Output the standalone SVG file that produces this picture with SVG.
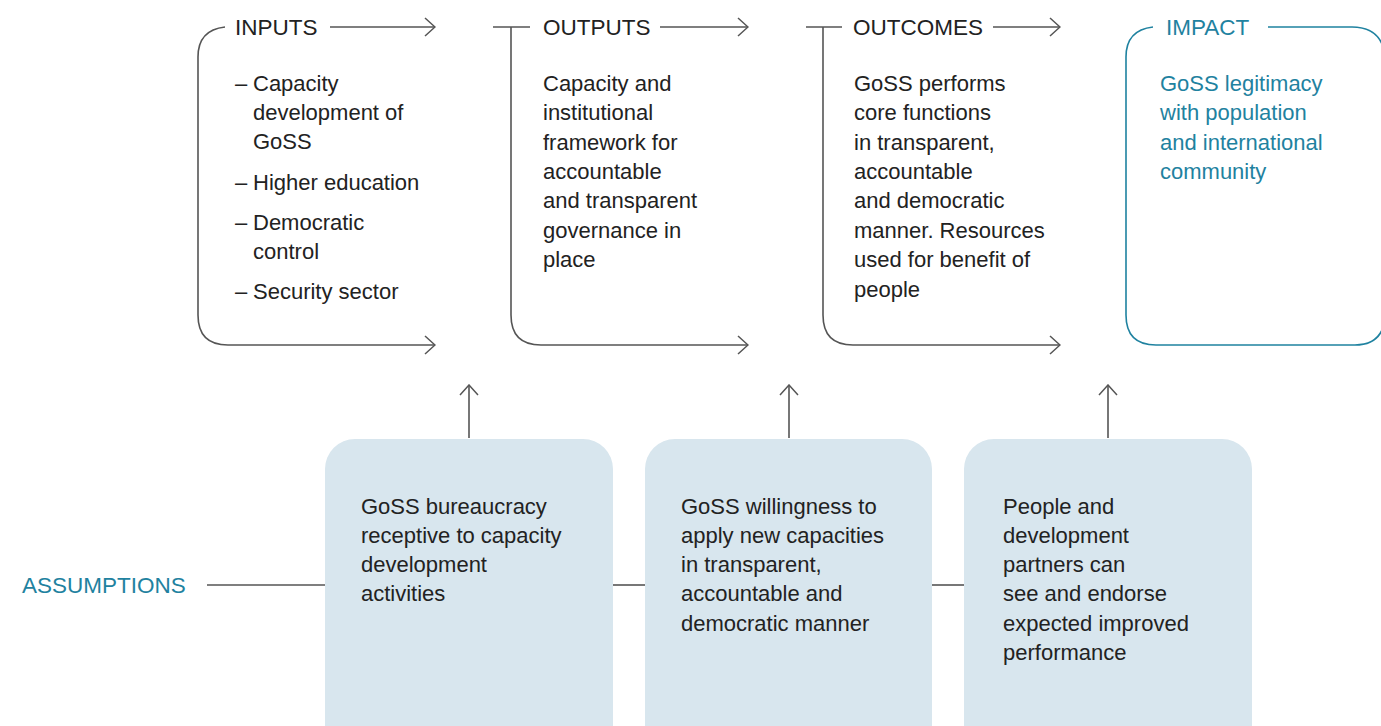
<svg xmlns="http://www.w3.org/2000/svg" width="1381" height="726" viewBox="0 0 1381 726">
<defs>
<marker id="ah" viewBox="0 0 12 20" refX="11" refY="10" markerWidth="12" markerHeight="20" markerUnits="userSpaceOnUse" orient="auto">
<path d="M1,1 L11,10 L1,19" fill="none" stroke="#555" stroke-width="1.5"/>
</marker>
</defs>
<style>
.t{font-family:"Liberation Sans",Arial,sans-serif;font-size:22px;fill:#222}
.h{font-family:"Liberation Sans",Arial,sans-serif;font-size:22.5px;fill:#222}
.teal{fill:#1f82a0}
.ln{fill:none;stroke:#555;stroke-width:1.6}
.box{fill:#d8e6ee}
</style>
<rect width="1381" height="726" fill="#fff"/>
<g id="connectors">
<line class="ln" x1="330" y1="27" x2="435" y2="27" marker-end="url(#ah)"/>
<line class="ln" x1="660" y1="27" x2="748" y2="27" marker-end="url(#ah)"/>
<line class="ln" x1="993" y1="27" x2="1060" y2="27" marker-end="url(#ah)"/>
<line class="ln" x1="469" y1="438" x2="469" y2="385" marker-end="url(#ah)"/>
<line class="ln" x1="789" y1="438" x2="789" y2="385" marker-end="url(#ah)"/>
<line class="ln" x1="1108" y1="438" x2="1108" y2="385" marker-end="url(#ah)"/>
<line class="ln" x1="207" y1="585" x2="325" y2="585"/>
<line class="ln" x1="613" y1="585" x2="645" y2="585"/>
<line class="ln" x1="932" y1="585" x2="964" y2="585"/>
</g>
<g id="inputs">
<path class="ln" d="M225,27 Q198,30 198,57 L198,315 Q198,345 228,345 L435,345" marker-end="url(#ah)"/>
<text class="h" x="235" y="35">INPUTS</text>
<text class="t" x="235" y="91">–</text>
<text class="t" x="253" y="91">Capacity</text>
<text class="t" x="253" y="120">development of</text>
<text class="t" x="253" y="149">GoSS</text>
<text class="t" x="235" y="190">–</text>
<text class="t" x="253" y="190">Higher education</text>
<text class="t" x="235" y="230">–</text>
<text class="t" x="253" y="230">Democratic</text>
<text class="t" x="253" y="259">control</text>
<text class="t" x="235" y="299">–</text>
<text class="t" x="253" y="299">Security sector</text>
</g>
<g id="outputs">
<path class="ln" d="M493,27 L530,27 M511,27 L511,315 Q511,345 541,345 L748,345" marker-end="url(#ah)"/>
<text class="h" x="543" y="35">OUTPUTS</text>
<text class="t" x="543" y="91">Capacity and</text>
<text class="t" x="543" y="120">institutional</text>
<text class="t" x="543" y="150">framework for</text>
<text class="t" x="543" y="179">accountable</text>
<text class="t" x="543" y="208">and transparent</text>
<text class="t" x="543" y="238">governance in</text>
<text class="t" x="543" y="267">place</text>
</g>
<g id="outcomes">
<path class="ln" d="M806,27 L842,27 M823,27 L823,315 Q823,345 853,345 L1060,345" marker-end="url(#ah)"/>
<text class="h" x="853" y="35">OUTCOMES</text>
<text class="t" x="854" y="91">GoSS performs</text>
<text class="t" x="854" y="120">core functions</text>
<text class="t" x="854" y="150">in transparent,</text>
<text class="t" x="854" y="179">accountable</text>
<text class="t" x="854" y="208">and democratic</text>
<text class="t" x="854" y="238">manner. Resources</text>
<text class="t" x="854" y="267">used for benefit of</text>
<text class="t" x="854" y="297">people</text>
</g>
<g id="impact">
<path d="M1153,27 Q1126,30 1126,57 L1126,315 Q1126,345 1156,345 L1355,345 Q1381,345 1385,320 M1268,27 L1352,27 Q1381,27 1385,55" fill="none" stroke="#1f82a0" stroke-width="1.6"/>
<text class="h teal" x="1166" y="35">IMPACT</text>
<text class="t teal" x="1160" y="91">GoSS legitimacy</text>
<text class="t teal" x="1160" y="120">with population</text>
<text class="t teal" x="1160" y="150">and international</text>
<text class="t teal" x="1160" y="179">community</text>
</g>
<g id="assumptions">
<text class="h teal" x="22" y="593">ASSUMPTIONS</text>
</g>
<g id="a1">
<rect class="box" x="325" y="439" width="288" height="320" rx="30"/>
<text class="t" x="361" y="514">GoSS bureaucracy</text>
<text class="t" x="361" y="543">receptive to capacity</text>
<text class="t" x="361" y="572">development</text>
<text class="t" x="361" y="601">activities</text>
</g>
<g id="a2">
<rect class="box" x="645" y="439" width="287" height="320" rx="30"/>
<text class="t" x="681" y="514">GoSS willingness to</text>
<text class="t" x="681" y="543">apply new capacities</text>
<text class="t" x="681" y="572">in transparent,</text>
<text class="t" x="681" y="601">accountable and</text>
<text class="t" x="681" y="631">democratic manner</text>
</g>
<g id="a3">
<rect class="box" x="964" y="439" width="288" height="320" rx="30"/>
<text class="t" x="1003" y="514">People and</text>
<text class="t" x="1003" y="543">development</text>
<text class="t" x="1003" y="572">partners can</text>
<text class="t" x="1003" y="601">see and endorse</text>
<text class="t" x="1003" y="631">expected improved</text>
<text class="t" x="1003" y="660">performance</text>
</g>
</svg>
